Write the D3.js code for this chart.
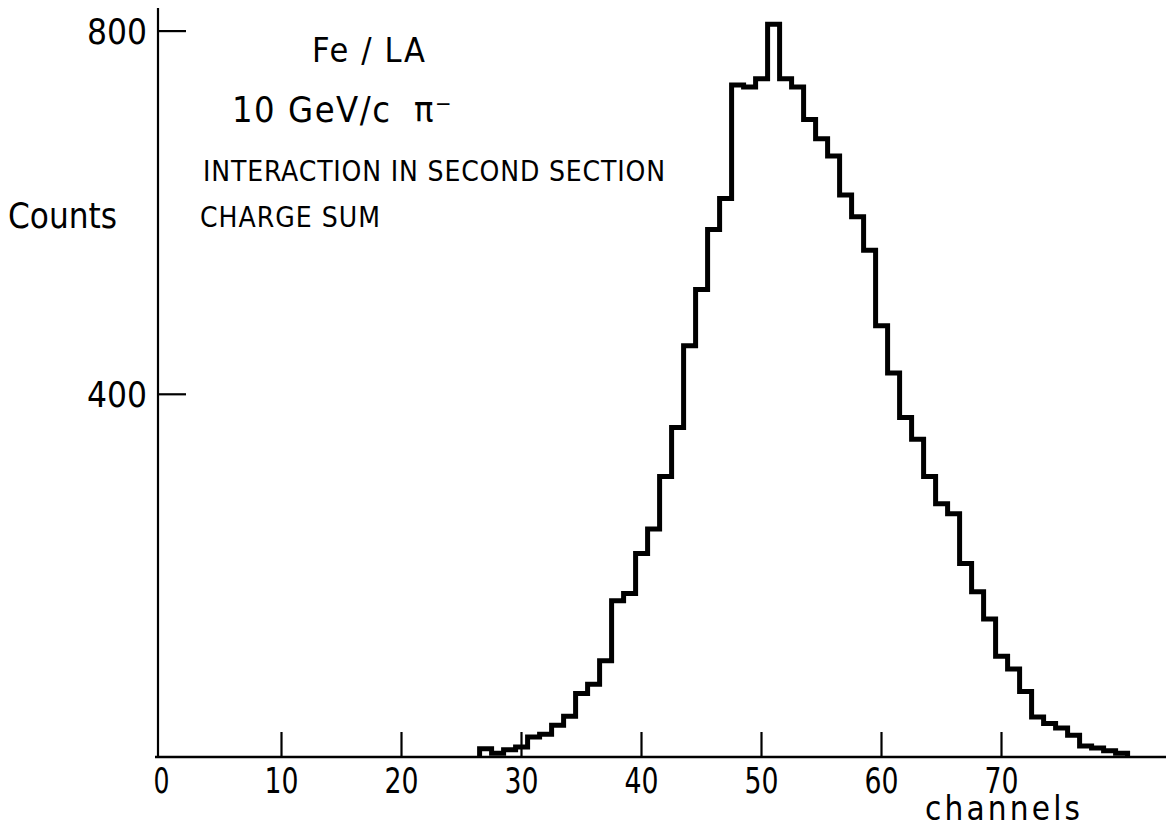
<!DOCTYPE html>
<html>
<head>
<meta charset="utf-8">
<script src="https://cdn.jsdelivr.net/npm/d3@7"></script>
<style>
  html, body { margin: 0; padding: 0; background: #fff; }
  svg { display: block; }
  text { font-family: "Liberation Sans Narrow", "DejaVu Sans Condensed", "DejaVu Sans", sans-serif; fill: #000; }
</style>
</head>
<body>
<svg id="chart" width="1166" height="829"></svg>
<script>
// ---- data ----
const channels = [27,28,29,30,31,32,33,34,35,36,37,38,39,40,41,42,43,44,45,46,47,48,49,50,51,52,53,54,
                  55,56,57,58,59,60,61,62,63,64,65,66,67,68,69,70,71,72,73,74,75,76,77,78,79,80];
const counts   = [9,4,8,11,22,25,35,45,70,80,106,172,180,224,251,309,363,453,515,581,615,740,738,747,
                  807,747,738,702,681,662,619,595,558,475,423,374,350,309,279,268,213,182,152,111,97,72,
                  44,37,32,24,12,10,7,4];
const xTicks = [0,10,20,30,40,50,60,70];
const yTicks = [400,800];
const xLabel = "channels";
const yLabel = "Counts";
const titleLines = ["Fe / LA", "10 GeV/c", "INTERACTION IN SECOND SECTION", "CHARGE SUM"];

// ---- layout ----
const svg = d3.select("#chart");
const x = d3.scaleLinear().domain([0, 70]).range([161, 1001]);
const y = d3.scaleLinear().domain([0, 800]).range([757, 30.6]);
const axisX = 158;          // vertical axis position
const binShift = 0.45;      // bin left edge = channel - binShift

// x axis
const gx = svg.append("g").attr("transform", `translate(0,${y(0)})`)
  .call(d3.axisBottom(x).tickValues(xTicks).tickSizeInner(-25).tickSizeOuter(0).tickPadding(11));
gx.select(".domain").remove();
gx.selectAll(".tick line").attr("stroke", "#000").attr("stroke-width", 2.2)
  .filter(d => d === 0).remove();
gx.selectAll(".tick text")
  .attr("y", 36).attr("dy", 0)
  .style("font-size", "36px")
  .attr("textLength", d => String(d).length === 1 ? 16 : 34)
  .attr("lengthAdjust", "spacingAndGlyphs");
svg.append("line")
  .attr("x1", axisX - 3).attr("x2", 1166)
  .attr("y1", y(0)).attr("y2", y(0))
  .attr("stroke", "#000").attr("stroke-width", 2.4);

// y axis
const gy = svg.append("g").attr("transform", `translate(${axisX},0)`)
  .call(d3.axisLeft(y).tickValues(yTicks).tickSizeInner(-28).tickSizeOuter(0).tickPadding(11));
gy.select(".domain").remove();
gy.selectAll(".tick line").attr("stroke", "#000").attr("stroke-width", 2.2);
gy.selectAll(".tick text")
  .attr("x", -71).attr("dy", "0.36em")
  .style("text-anchor", "start")
  .style("font-size", "36px")
  .attr("textLength", 60)
  .attr("lengthAdjust", "spacingAndGlyphs");
svg.append("line")
  .attr("x1", axisX).attr("x2", axisX)
  .attr("y1", 8).attr("y2", y(0))
  .attr("stroke", "#000").attr("stroke-width", 2.2);

// histogram outline
const pts = [[channels[0] - binShift, 0]];
channels.forEach((c, i) => pts.push([c - binShift, counts[i]]));
const last = channels.length - 1;
pts.push([channels[last] + 1 - binShift, counts[last]]);
pts.push([channels[last] + 1 - binShift, 0]);
svg.append("path")
  .attr("d", d3.line().x(d => x(d[0])).y(d => y(d[1])).curve(d3.curveStepAfter)(pts))
  .attr("fill", "none").attr("stroke", "#000")
  .attr("stroke-width", 5).attr("stroke-linejoin", "miter");

// labels
function label(txt, px, py, size, len, adj) {
  return svg.append("text").attr("x", px).attr("y", py)
    .style("font-size", size + "px")
    .attr("textLength", len).attr("lengthAdjust", adj || "spacingAndGlyphs")
    .text(txt);
}
label(yLabel, 8, 228, 36, 109);
label(xLabel, 925, 820, 33, 155, "spacing");
label(titleLines[0], 312, 62, 34, 113, "spacing");
label(titleLines[1], 232, 122, 36, 158, "spacing");
svg.append("text").attr("x", 414).attr("y", 122).style("font-size", "36px").text("π");
svg.append("text").attr("x", 435).attr("y", 111).style("font-size", "22px").text("−");
label(titleLines[2], 203, 181, 28, 462, "spacing");
label(titleLines[3], 200, 227, 28, 180, "spacing");
</script>
</body>
</html>
